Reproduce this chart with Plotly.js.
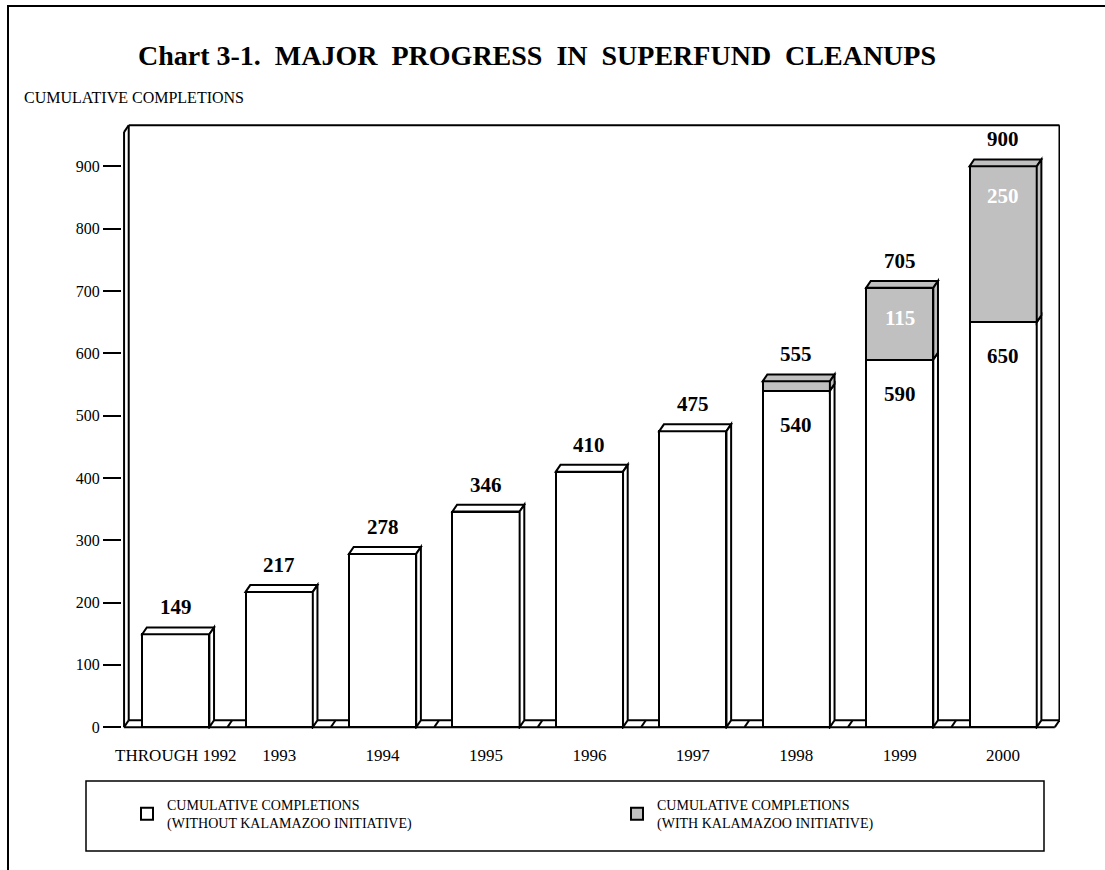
<!DOCTYPE html>
<html>
<head>
<meta charset="utf-8">
<script src="https://cdn.plot.ly/plotly-3.0.1.min.js"></script>
<style>
  html, body { margin: 0; padding: 0; background: #fff; }
  #chart { position: absolute; left: 0; top: 0; width: 1105px; height: 870px; }
  #frame { position: absolute; left: 7px; top: 5px; width: 1098px; height: 865px;
           border-top: 2px solid #000; border-left: 2px solid #000; pointer-events: none; box-sizing: border-box; }
</style>
</head>
<body>
<div id="chart"></div>
<div id="frame"></div>
<script>
// ---- data ----
const categories = ["THROUGH 1992", "1993", "1994", "1995", "1996", "1997", "1998", "1999", "2000"];
const withoutInitiative = [149, 217, 278, 346, 410, 475, 540, 590, 650];
const totalWithInitiative = [149, 217, 278, 346, 410, 475, 555, 705, 900];
const yTickValues = [0, 100, 200, 300, 400, 500, 600, 700, 800, 900];

const nameWithout = "CUMULATIVE COMPLETIONS<br>(WITHOUT KALAMAZOO INITIATIVE)";
const nameWith = "CUMULATIVE COMPLETIONS<br>(WITH KALAMAZOO INITIATIVE)";

// ---- derived ----
const xIdx = categories.map((c, i) => i);
const extra = totalWithInitiative.map((t, i) => t - withoutInitiative[i]);
const extraBars = extra.map(v => v > 0 ? v : null);

// ---- style ----
const FONT = "'Times New Roman', 'Liberation Serif', serif";
const GRAY = "#c0c0c0";
const BARGAP = 0.35;
const HALF = (1 - BARGAP) / 2;
const DX = 0.045;   // depth in category units
const DY = 11;      // depth in value units
const XR = [-0.52, categories.length - 0.45];
const YR = [-3, 968];
const LW = 2;

const traces = [
  { type: "bar", name: nameWithout, x: xIdx, y: withoutInitiative, legendwidth: 445,
    marker: { color: "#ffffff", line: { color: "#000", width: LW } }, hoverinfo: "skip" },
  { type: "bar", name: nameWith, x: xIdx, y: extraBars, legendwidth: 220,
    marker: { color: GRAY, line: { color: "#000", width: LW } }, hoverinfo: "skip" }
];

const shapes = [];
function line(x0, y0, x1, y1) {
  shapes.push({ type: "line", xref: "x", yref: "y", x0, y0, x1, y1, layer: "below",
                line: { color: "#000", width: LW } });
}
function poly(pts, fill) {
  const d = "M " + pts.map(p => p[0] + "," + p[1]).join(" L ") + " Z";
  shapes.push({ type: "path", xref: "x", yref: "y", path: d, layer: "above",
                fillcolor: fill, line: { color: "#000", width: LW } });
}

// 3-D box (walls and floor)
const xL = -0.5, xR = categories.length - 0.5;
const yTop = YR[1] - 2;
line(xL, 0, xL, yTop - DY);
line(xL, yTop - DY, xL + DX, yTop);
line(xL + DX, yTop, xR + DX, yTop);
line(xR + DX, yTop, xR + DX, DY);
line(xL + DX, DY, xL + DX, yTop);
line(xL + DX, DY, xR + DX, DY);
line(xL, 0, xR, 0);
for (let k = -1; k < categories.length; k++) line(k + 0.5, 0, k + 0.5 + DX, DY);

// 3-D bar faces
xIdx.forEach((x, i) => {
  const top = totalWithInitiative[i], mid = withoutInitiative[i];
  const hasExtra = extra[i] > 0;
  poly([[x - HALF, top], [x - HALF + DX, top + DY], [x + HALF + DX, top + DY], [x + HALF, top]],
       hasExtra ? GRAY : "#ffffff");
  poly([[x + HALF, 0], [x + HALF + DX, DY], [x + HALF + DX, mid + DY], [x + HALF, mid]], "#ffffff");
  if (hasExtra) {
    poly([[x + HALF, mid], [x + HALF + DX, mid + DY], [x + HALF + DX, top + DY], [x + HALF, top]], GRAY);
  }
});

// legend box
const plotL = 122, plotR = 1060, plotT = 124, plotB = 729;
const pw = plotR - plotL, ph = plotB - plotT;
const px2x = p => (p - plotL) / pw;
const py2y = p => (plotB - p) / ph;
shapes.push({ type: "rect", xref: "paper", yref: "paper",
  x0: px2x(86), x1: px2x(1044), y0: py2y(851), y1: py2y(781),
  line: { color: "#000", width: 1.5 }, fillcolor: "rgba(0,0,0,0)", layer: "above" });

// value labels
const annotations = [];
const LBL = 21;
xIdx.forEach((x, i) => {
  annotations.push({ x, y: totalWithInitiative[i], xref: "x", yref: "y", text: "<b>" + totalWithInitiative[i] + "</b>",
    showarrow: false, yshift: 27, yanchor: "middle", font: { family: FONT, size: LBL, color: "#000" } });
  if (extra[i] > 0) {
    annotations.push({ x, y: withoutInitiative[i], xref: "x", yref: "y", text: "<b>" + withoutInitiative[i] + "</b>",
      showarrow: false, yshift: -34, yanchor: "middle", font: { family: FONT, size: LBL, color: "#000" } });
  }
  if (extra[i] >= 100) {
    annotations.push({ x, y: totalWithInitiative[i], xref: "x", yref: "y", text: "<b>" + extra[i] + "</b>",
      showarrow: false, yshift: -30, yanchor: "middle", font: { family: FONT, size: LBL, color: "#ffffff" } });
  }
});
annotations.push({ xref: "paper", yref: "paper", x: px2x(22), y: py2y(97), xanchor: "left", yanchor: "middle",
  showarrow: false, text: "CUMULATIVE COMPLETIONS", font: { family: FONT, size: 16, color: "#000" } });

const layout = {
  width: 1105, height: 870,
  paper_bgcolor: "#ffffff", plot_bgcolor: "rgba(0,0,0,0)",
  margin: { l: plotL, r: 1105 - plotR, t: plotT, b: 870 - plotB, pad: 0 },
  title: { text: "<b>Chart 3-1.  MAJOR  PROGRESS  IN  SUPERFUND  CLEANUPS</b>",
           xref: "paper", x: px2x(537), xanchor: "center",
           yref: "container", y: 1 - 55 / 870, yanchor: "middle",
           font: { family: FONT, size: 28, color: "#000" } },
  barmode: "stack", bargap: BARGAP,
  xaxis: { range: XR, tickmode: "array", tickvals: xIdx, ticktext: categories,
           showgrid: false, zeroline: false, showline: false, ticks: "",
           ticklabelstandoff: 14,
           tickfont: { family: FONT, size: 17, color: "#000" }, fixedrange: true },
  yaxis: { range: YR, tickmode: "array", tickvals: yTickValues,
           showgrid: false, zeroline: false, showline: false,
           ticks: "outside", ticklen: 18, tickwidth: 2, tickcolor: "#000",
           ticklabelstandoff: 0,
           tickfont: { family: FONT, size: 16, color: "#000" }, fixedrange: true },
  showlegend: true,
  legend: { orientation: "h", x: px2x(127), xanchor: "left", y: py2y(814), yanchor: "middle",
            bgcolor: "rgba(0,0,0,0)", borderwidth: 0,
            font: { family: FONT, size: 14, color: "#000" }, traceorder: "normal", itemclick: false },
  shapes, annotations
};

Plotly.newPlot("chart", traces, layout, { displayModeBar: false, staticPlot: true });
</script>
</body>
</html>
